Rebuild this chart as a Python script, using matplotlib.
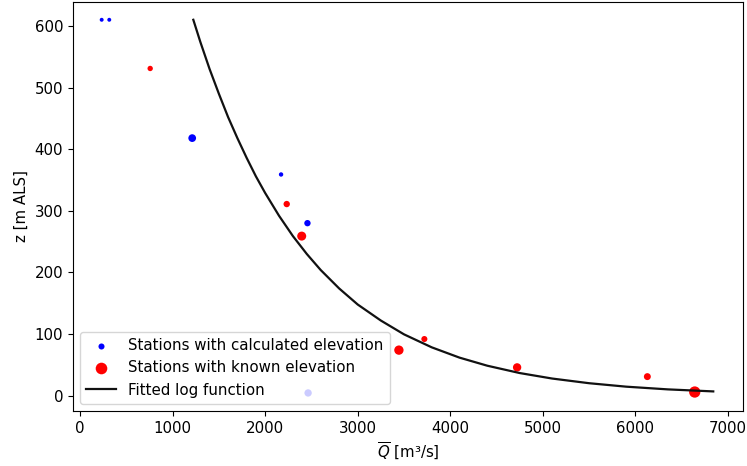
import matplotlib
matplotlib.use("Agg")
import matplotlib.pyplot as plt

# stations with calculated elevation (blue)
calc_q = [234, 316, 1212, 2172, 2457, 2464]
calc_z = [610, 610, 418, 359, 280, 4.5]
calc_sizes = [8, 8, 31, 10, 21, 28]

# stations with known elevation (red)
known_q = [758, 2233, 2395, 3445, 3720, 4722, 6129, 6641]
known_z = [531, 311, 259, 74, 92, 46, 31, 6]
known_sizes = [15, 21, 42, 45, 19, 36, 25, 66]

# fitted curve
fit_q = [1224, 1300, 1400, 1500, 1600, 1700, 1800, 1900, 2000, 2150, 2300, 2450,
         2600, 2800, 3000, 3250, 3500, 3800, 4100, 4400, 4750, 5100, 5500, 5900,
         6350, 6841]
fit_z = [610, 574, 530, 490, 452, 418, 386, 356, 329, 292, 259, 230,
         204, 174, 148, 122, 99.6, 78.5, 61.8, 48.7, 36.8, 27.9, 20.3, 14.7,
         10.3, 7.0]


def plot_stations():
    plt.rcParams["font.size"] = 10.8
    fig = plt.figure(figsize=(7.47, 4.66), dpi=100)
    ax = fig.add_axes([0.0977, 0.118, 0.8969, 0.8779])

    ax.scatter(calc_q, calc_z, s=calc_sizes, c="blue", linewidths=0,
               label="Stations with calculated elevation")
    ax.scatter(known_q, known_z, s=known_sizes, c="red", linewidths=0,
               label="Stations with known elevation")
    ax.plot(fit_q, fit_z, color="#111111", lw=1.6, label="Fitted log function")

    ax.set_xlim(-76, 7162)
    ax.set_ylim(-24.8, 639)
    ax.set_xlabel(r"$\overline{Q}$ [m³/s]")
    ax.set_ylabel("z [m ALS]")

    leg = ax.legend(loc="lower left")
    for h, s in zip(leg.legend_handles[:2], [19, 70]):
        h.set_sizes([s])

    fig.savefig("out.png", dpi=100)


if __name__ == "__main__":
    plot_stations()
